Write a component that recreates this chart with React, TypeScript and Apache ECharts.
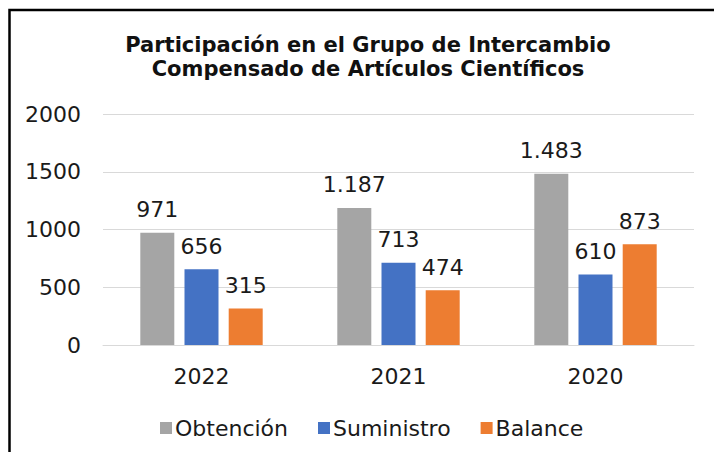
import React, { useEffect, useRef } from "react";
import * as echarts from "echarts";

const titleLines = ["Participación en el Grupo de Intercambio", "Compensado de Artículos Científicos"];
const categories = ["2022", "2021", "2020"];
const seriesNames = ["Obtención", "Suministro", "Balance"];
const obtencion = [971, 1187, 1483];
const suministro = [656, 713, 610];
const balance = [315, 474, 873];
const colors = ["#A5A5A5", "#4472C4", "#ED7D31"];
const yTicks = { min: 0, max: 2000, interval: 500 };

const FONT = "'DejaVu Sans', 'Liberation Sans', Arial, sans-serif";
const TEXT = "#1a1a1a";

function fmt(v: number): string {
  const s = String(Math.round(v));
  return s.replace(/\B(?=(\d{3})+(?!\d))/g, ".");
}

export default function App() {
  const ref = useRef<HTMLDivElement>(null);
  useEffect(() => {
    if (!ref.current) return;
    const chart = echarts.init(ref.current, null, { renderer: "svg" });
    const values = [obtencion, suministro, balance];
    chart.setOption({
      animation: false,
      backgroundColor: "#ffffff",
      title: {
        text: titleLines.join("\n"),
        left: 368,
        top: 33,
        padding: 0,
        textAlign: "center",
        textStyle: {
          fontFamily: FONT,
          fontSize: 21,
          fontWeight: "bold",
          color: "#111",
          lineHeight: 24,
        },
      },
      legend: {
        left: 155,
        top: 412,
        itemWidth: 12,
        itemHeight: 12,
        itemGap: 30,
        icon: "rect",
        textStyle: { fontFamily: FONT, fontSize: 22, color: TEXT, padding: [0, 0, 0, -2] },
        data: seriesNames,
      },
      grid: { left: 103, right: 20, top: 114, bottom: 107, containLabel: false },
      xAxis: {
        type: "category",
        data: categories,
        axisLine: { lineStyle: { color: "#D9D9D9", width: 1 } },
        axisTick: { show: false },
        axisLabel: { fontFamily: FONT, fontSize: 22, color: TEXT, margin: 20 },
      },
      yAxis: {
        type: "value",
        min: yTicks.min,
        max: yTicks.max,
        interval: yTicks.interval,
        axisLine: { show: false },
        axisTick: { show: false },
        splitLine: { lineStyle: { color: "#D9D9D9", width: 1 } },
        axisLabel: {
          fontFamily: FONT,
          fontSize: 22,
          color: TEXT,
          margin: 22,
          formatter: (v: number) => String(v),
        },
      },
      graphic: [
        {
          type: "rect",
          shape: { x: 9.5, y: 10, width: 900, height: 700 },
          style: { fill: "none", stroke: "#000", lineWidth: 2.5 },
          silent: true,
        },
      ],
      series: seriesNames.map((name, i) => ({
        name,
        type: "bar",
        data: values[i],
        barWidth: 34,
        barGap: "30%",
        itemStyle: { color: colors[i] },
        label: {
          show: true,
          position: "top",
          distance: 12,
          fontFamily: FONT,
          fontSize: 22,
          color: TEXT,
          formatter: (p: any) => fmt(p.value),
        },
      })),
    });
    return () => chart.dispose();
  }, []);
  return (
    <div
      ref={ref}
      style={{ position: "fixed", left: 0, top: 0, width: 714, height: 452, background: "#fff" }}
    />
  );
}
